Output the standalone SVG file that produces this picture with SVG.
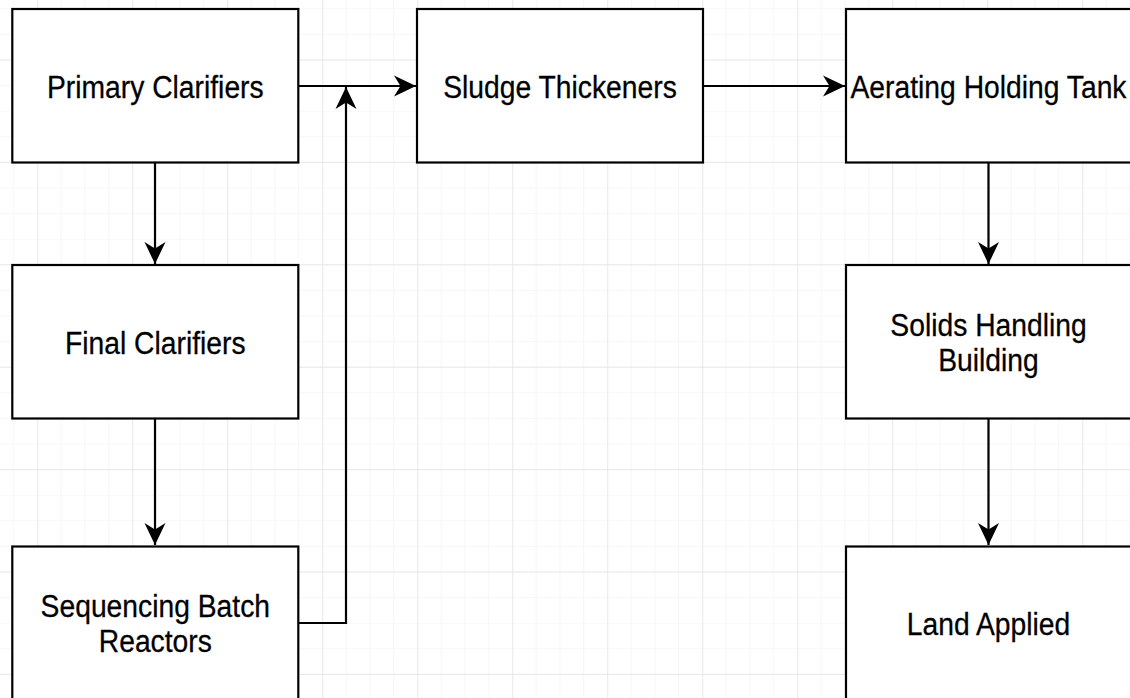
<svg xmlns="http://www.w3.org/2000/svg" width="1130" height="698" viewBox="0 0 1130 698">
<style>
.box{fill:#fff;stroke:#000;stroke-width:2.2}
.lbl{font-family:"Liberation Sans",Arial,Helvetica,sans-serif;font-size:28px;fill:#000;text-anchor:middle;stroke:#000;stroke-width:0.25}
.conn{fill:none;stroke:#000;stroke-width:2.2}
</style>
<defs>
<pattern id="minor" patternUnits="userSpaceOnUse" x="13.2" y="8.3" width="23.75" height="25.6">
<path d="M0,0 V25.6 M0,0 H23.75" fill="none" stroke="#f0f0f0" stroke-width="1.2"/>
</pattern>
<pattern id="major" patternUnits="userSpaceOnUse" x="37.3" y="59.5" width="95" height="102.4">
<path d="M0,0 V102.4 M0,0 H95" fill="none" stroke="#e4e4e4" stroke-width="1.4"/>
</pattern>
<marker id="arr" viewBox="-22 -11 22 22" refX="0" refY="0" markerWidth="22" markerHeight="22" markerUnits="userSpaceOnUse" orient="auto">
<path d="M0,0 L-22,-10.5 L-15.5,0 L-22,10.5 Z" fill="#000"/>
</marker>
</defs>
<rect width="1130" height="698" fill="#fff"/>
<rect width="1130" height="698" fill="url(#minor)"/>
<rect width="1130" height="698" fill="url(#major)"/>
<g id="connectors">
<path class="conn" d="M298,86 H416" marker-end="url(#arr)"/>
<path class="conn" d="M298,623 H346 V87" marker-end="url(#arr)"/>
<path class="conn" d="M703,86 H845" marker-end="url(#arr)"/>
<path class="conn" d="M155,162 V264" marker-end="url(#arr)"/>
<path class="conn" d="M155,418 V545" marker-end="url(#arr)"/>
<path class="conn" d="M988.5,162 V264" marker-end="url(#arr)"/>
<path class="conn" d="M988.5,418 V545" marker-end="url(#arr)"/>
</g>
<g id="primary-clarifiers">
<rect class="box" x="12.3" y="9" width="286" height="153.5"/>
<text class="lbl" transform="translate(155.3,98) scale(1.01,1.1)">Primary Clarifiers</text>
</g>
<g id="sludge-thickeners">
<rect class="box" x="417" y="9" width="286" height="153.5"/>
<text class="lbl" transform="translate(560,98) scale(1.01,1.1)">Sludge Thickeners</text>
</g>
<g id="aerating-holding-tank">
<rect class="box" x="846" y="9" width="285.5" height="153.5"/>
<text class="lbl" transform="translate(988.5,98) scale(1.01,1.1)">Aerating Holding Tank</text>
</g>
<g id="final-clarifiers">
<rect class="box" x="12.3" y="265" width="286" height="153.5"/>
<text class="lbl" transform="translate(155.3,354) scale(1.01,1.1)">Final Clarifiers</text>
</g>
<g id="solids-handling-building">
<rect class="box" x="846" y="265" width="285.5" height="153.5"/>
<text class="lbl" transform="translate(988.5,336) scale(1.01,1.1)">Solids Handling</text>
<text class="lbl" transform="translate(988.5,371) scale(1.01,1.1)">Building</text>
</g>
<g id="sequencing-batch-reactors">
<rect class="box" x="12.3" y="546.5" width="286" height="160"/>
<text class="lbl" transform="translate(155.3,617) scale(1.01,1.1)">Sequencing Batch</text>
<text class="lbl" transform="translate(155.3,652) scale(1.01,1.1)">Reactors</text>
</g>
<g id="land-applied">
<rect class="box" x="846" y="546.5" width="285.5" height="160"/>
<text class="lbl" transform="translate(988.5,635) scale(1.01,1.1)">Land Applied</text>
</g>
</svg>
